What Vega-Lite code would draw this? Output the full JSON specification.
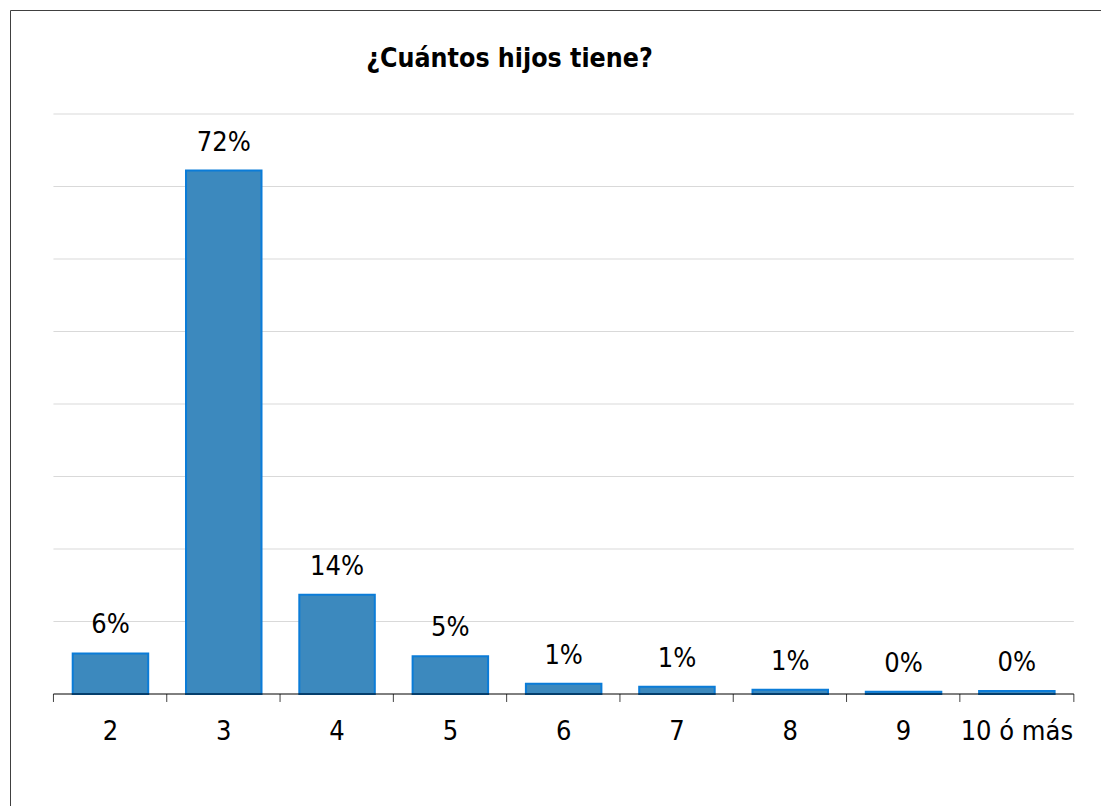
{
  "$schema": "https://vega.github.io/schema/vega-lite/v6.json",
  "width": 1093,
  "height": 796,
  "autosize": {"type": "none"},
  "padding": {"left": 10, "top": 10, "right": 0, "bottom": 0},
  "background": "white",
  "config": {
    "view": {"stroke": "#404040", "strokeWidth": 1},
    "font": "Tahoma, DejaVu Sans Condensed, DejaVu Sans"
  },
  "title": {
    "text": "¿Cuántos hijos tiene?",
    "fontSize": 26.5,
    "fontWeight": "bold",
    "font": "Tahoma, DejaVu Sans Condensed, DejaVu Sans",
    "color": "#000000",
    "anchor": "middle",
    "baseline": "alphabetic",
    "offset": 0,
    "dx": -47,
    "dy": 83
  },
  "datasets": {
    "bars": [
      {"hijos": "2", "pct": 0.056},
      {"hijos": "3", "pct": 0.722},
      {"hijos": "4", "pct": 0.137},
      {"hijos": "5", "pct": 0.052},
      {"hijos": "6", "pct": 0.014},
      {"hijos": "7", "pct": 0.010},
      {"hijos": "8", "pct": 0.006},
      {"hijos": "9", "pct": 0.003},
      {"hijos": "10 ó más", "pct": 0.004}
    ],
    "grid": [
      {"g": 0.1}, {"g": 0.2}, {"g": 0.3}, {"g": 0.4},
      {"g": 0.5}, {"g": 0.6}, {"g": 0.7}, {"g": 0.8}
    ]
  },
  "encoding": {
    "x": {
      "field": "hijos",
      "type": "nominal",
      "sort": null,
      "scale": {
        "domain": ["2", "3", "4", "5", "6", "7", "8", "9", "10 ó más"],
        "paddingInner": 0.3336,
        "paddingOuter": 0.4903,
        "align": 0.5644
      },
      "axis": {
        "title": null,
        "orient": "bottom",
        "offset": -112,
        "domain": false,
        "grid": false,
        "ticks": false,
        "labelAngle": 0,
        "labelFontSize": 27,
        "labelColor": "#000000",
        "labelBaseline": "alphabetic",
        "labelPadding": 45
      }
    }
  },
  "layer": [
    {
      "data": {"name": "grid"},
      "mark": {"type": "rule", "color": "#D9D9D9", "strokeWidth": 1},
      "encoding": {
        "x": {"datum": "2", "type": "nominal", "bandPosition": -0.255},
        "x2": {"datum": "10 ó más", "bandPosition": 1.255},
        "y": {
          "field": "g",
          "type": "quantitative",
          "scale": {"domain": [-0.15448, 0.94345], "nice": false, "zero": false},
          "axis": null
        }
      }
    },
    {
      "data": {"name": "bars"},
      "mark": {"type": "bar", "fill": "#3C89BE", "stroke": "#0B7CD8", "strokeWidth": 2},
      "encoding": {
        "y": {"field": "pct", "type": "quantitative"},
        "y2": {"datum": 0}
      }
    },
    {
      "data": {"name": "bars"},
      "mark": {"type": "rule", "color": "#404040", "strokeWidth": 1},
      "encoding": {
        "x": {"field": "hijos", "type": "nominal", "bandPosition": -0.255},
        "y": {"datum": 0, "type": "quantitative"},
        "y2": {"datum": -0.011}
      }
    },
    {
      "data": {"values": [{"b": 0}]},
      "mark": {"type": "rule", "color": "#404040", "strokeWidth": 1},
      "encoding": {
        "x": {"datum": "10 ó más", "type": "nominal", "bandPosition": 1.255},
        "y": {"datum": 0, "type": "quantitative"},
        "y2": {"datum": -0.011}
      }
    },
    {
      "data": {"values": [{"b": 0}]},
      "mark": {"type": "rule", "color": "#000000", "strokeWidth": 1},
      "encoding": {
        "x": {"datum": "2", "type": "nominal", "bandPosition": -0.255},
        "x2": {"datum": "10 ó más", "bandPosition": 1.255},
        "y": {"field": "b", "type": "quantitative"}
      }
    },
    {
      "data": {"name": "bars"},
      "mark": {"type": "text", "baseline": "alphabetic", "dy": -20, "fontSize": 27, "color": "#000000"},
      "encoding": {
        "y": {"field": "pct", "type": "quantitative"},
        "text": {"field": "pct", "type": "quantitative", "format": ".0%"}
      }
    }
  ]
}
